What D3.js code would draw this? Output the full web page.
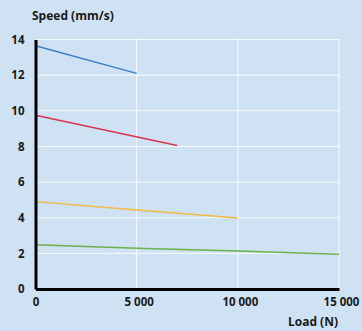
<!DOCTYPE html>
<html>
<head>
<meta charset="utf-8">
<script src="https://cdn.jsdelivr.net/npm/d3@7"></script>
<style>
  html, body { margin: 0; padding: 0; background: #cfe2f3; }
  svg { display: block; }
  text { font-family: "Open Sans", "DejaVu Sans", sans-serif; font-weight: 700; fill: #1a1a1a; }
</style>
</head>
<body>
<svg id="chart" width="362" height="331"></svg>
<script>
// Load (N) at which each speed curve is sampled
const loadBlue = [0, 5000];
const loadRed = [0, 7000];
const loadYellow = [0, 5000, 10000];
const loadGreen = [0, 5000, 10000, 15000];

// Speed (mm/s) for each curve
const speedBlue = [13.65, 12.1];
const speedRed = [9.75, 8.05];
const speedYellow = [4.9, 4.43, 3.98];
const speedGreen = [2.48, 2.29, 2.13, 1.95];

const xTicks = [0, 5000, 10000, 15000];
const xTickLabels = ["0", "5 000", "10 000", "15 000"];
const yTicks = [0, 2, 4, 6, 8, 10, 12, 14];

const series = [
  { x: loadBlue, y: speedBlue, color: "#3a7ec3" },
  { x: loadRed, y: speedRed, color: "#d8344f" },
  { x: loadYellow, y: speedYellow, color: "#f1b942" },
  { x: loadGreen, y: speedGreen, color: "#6bb04a" }
];

const svg = d3.select("#chart");
const m = { left: 35.5, right: 23, top: 39.5, bottom: 42 };
const W = 362, H = 331;

const x = d3.scaleLinear().domain([0, 15000]).range([m.left, W - m.right]);
const y = d3.scaleLinear().domain([0, 14]).range([H - m.bottom, m.top]);

// gridlines
const grid = svg.append("g").attr("stroke", "#ffffff").attr("stroke-opacity", 0.85).attr("stroke-width", 1);
grid.selectAll("line.h").data(yTicks.filter(d => d > 0)).join("line")
  .attr("x1", x(0)).attr("x2", x(15000))
  .attr("y1", d => y(d)).attr("y2", d => y(d));
grid.selectAll("line.v").data(xTicks.filter(d => d > 0)).join("line")
  .attr("x1", d => x(d)).attr("x2", d => x(d))
  .attr("y1", y(14)).attr("y2", y(0));

// curves
const line = d3.line().x(d => x(d[0])).y(d => y(d[1]));
svg.append("g").selectAll("path").data(series).join("path")
  .attr("d", s => line(d3.zip(s.x, s.y)))
  .attr("fill", "none")
  .attr("stroke", s => s.color)
  .attr("stroke-width", 1.4);

// axes
const xAxis = d3.axisBottom(x).tickValues(xTicks).tickSize(0).tickPadding(9)
  .tickFormat((d, i) => xTickLabels[i]);
const gx = svg.append("g").attr("transform", `translate(0,${y(0)})`).call(xAxis);
gx.select(".domain").attr("stroke", "#000").attr("stroke-width", 3);
gx.selectAll(".tick text").attr("font-size", 11.5).attr("dx", 2)
  .style("font-family", "'Open Sans', sans-serif").style("font-weight", 700).attr("fill", "#1a1a1a");
gx.selectAll(".tick text").filter(d => d === 0).attr("dx", 0);

const yAxis = d3.axisLeft(y).tickValues(yTicks).tickSize(0).tickPadding(11);
const gy = svg.append("g").attr("transform", `translate(${x(0)},0)`).call(yAxis);
gy.select(".domain").attr("stroke", "#000").attr("stroke-width", 3);
gy.selectAll(".tick text").attr("font-size", 11.5)
  .style("font-family", "'Open Sans', sans-serif").style("font-weight", 700).attr("fill", "#1a1a1a");

// axis titles
svg.append("text").attr("x", 32).attr("y", 20).attr("font-size", 12).text("Speed (mm/s)");
svg.append("text").attr("x", 338).attr("y", 326).attr("text-anchor", "end").attr("font-size", 12).text("Load (N)");
</script>
</body>
</html>
